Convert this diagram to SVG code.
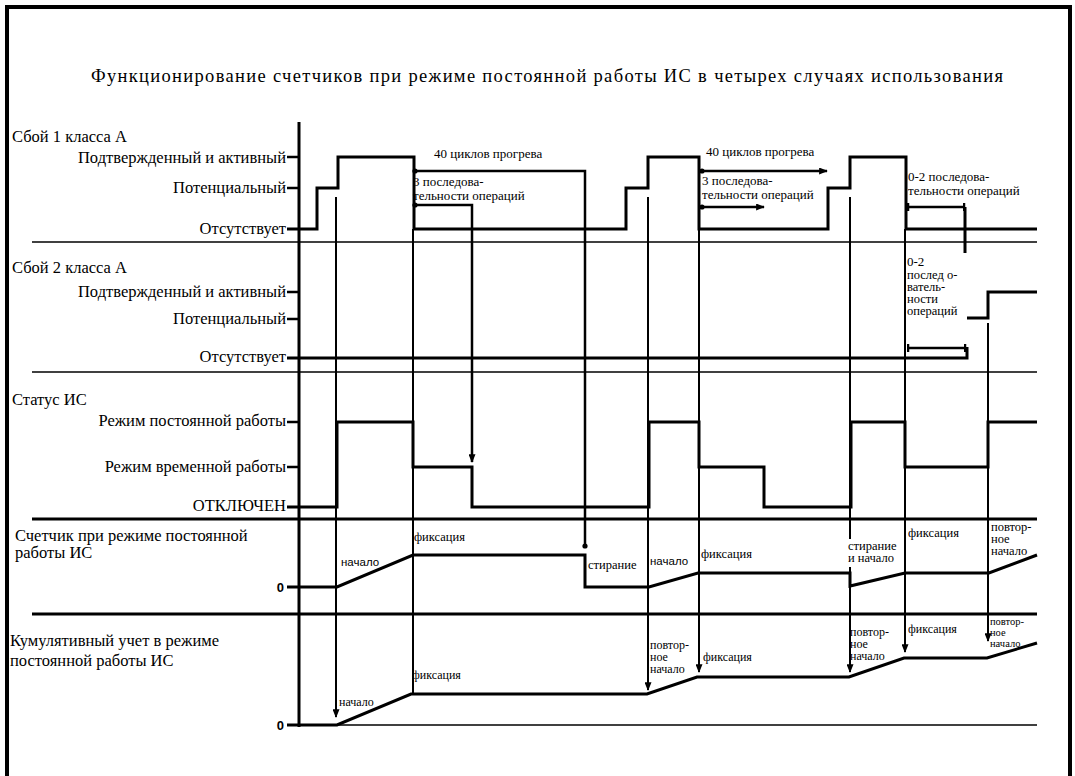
<svg xmlns="http://www.w3.org/2000/svg" width="1075" height="776" viewBox="0 0 1075 776">
  <defs>
    <style>
      text { font-family: "Liberation Serif", "Times New Roman", "DejaVu Serif", serif; fill: #000; }
      .ttl { font-size: 18.5px; }
      .lbl { font-size: 16.5px; }
      .lvl { font-size: 16.5px; text-anchor: end; }
      .ann { font-size: 13px; }
      .sm { font-size: 12.5px; }
      .cum { font-size: 12px; }
      .cumt { font-size: 10.5px; }
      .sans { font-family: "Liberation Sans", Arial, sans-serif; font-size: 11.5px; }
      .zero { font-family: "Liberation Sans", Arial, sans-serif; font-size: 13px; font-weight: bold; text-anchor: end; }
      .sep { stroke: #000; stroke-width: 1.5; fill: none; }
      .sepb { stroke: #000; stroke-width: 3; fill: none; }
      .axis { stroke: #000; stroke-width: 3; fill: none; }
      .tick { stroke: #000; stroke-width: 2.5; fill: none; }
      .wave { stroke: #000; stroke-width: 3; fill: none; }
      .thin { stroke: #000; stroke-width: 1.5; fill: none; }
      .ev { stroke: #000; stroke-width: 2; fill: none; }
      .dim { stroke: #000; stroke-width: 2.5; fill: none; }
      .mask { fill: #fff; stroke: none; }
    </style>
    <marker id="arrow" viewBox="0 0 10 8" refX="9" refY="4" markerWidth="9" markerHeight="7" markerUnits="userSpaceOnUse" orient="auto">
      <path d="M0,0 L10,4 L0,8 z" fill="#000"/>
    </marker>
    <marker id="dot" viewBox="-3 -3 6 6" refX="0" refY="0" markerWidth="6" markerHeight="6" markerUnits="userSpaceOnUse" orient="auto">
      <circle cx="0" cy="0" r="2.6" fill="#000"/>
    </marker>
    <marker id="bar" viewBox="-1.5 -5 3 10" refX="0" refY="0" markerWidth="3" markerHeight="10" markerUnits="userSpaceOnUse" orient="auto">
      <path d="M0,-4 V4" stroke="#000" stroke-width="2.5"/>
    </marker>
  </defs>

  <!-- page frame -->
  <g id="frame">
    <rect x="7" y="7" width="1063" height="800" fill="none" stroke="#000" stroke-width="4"/>
  </g>

  <g id="title">
    <text class="ttl" x="91" y="82" textLength="912" lengthAdjust="spacing">Функционирование счетчиков при режиме постоянной работы ИС в четырех случаях использования</text>
  </g>

  <!-- common time axis and row separators -->
  <g id="axes">
    <path class="axis" d="M299,122 V727"/>
    <path class="sep" d="M32,242 H1037"/>
    <path class="sep" d="M32,372 H1037"/>
    <path class="sepb" d="M32,519 H1037"/>
    <path class="sepb" d="M32,614 H1037"/>
    <path class="thin" d="M287,725 H1037"/>
  </g>

  <!-- row 1: fault 1, class A -->
  <g id="row-fault1">
    <text class="lbl" x="12" y="142">Сбой 1 класса А</text>
    <text class="lvl" x="286" y="163">Подтвержденный и активный</text>
    <text class="lvl" x="286" y="193">Потенциальный</text>
    <text class="lvl" x="286" y="234">Отсутствует</text>
    <path class="tick" d="M287,157 H299 M287,188 H299"/>
    <path class="wave" d="M287,229 H317 V188 H338 V157 H414 V229 H626 V188 H648 V157 H699 V229 H828 V188 H850 V157 H906 V229 H1037"/>
  </g>

  <!-- row 2: fault 2, class A -->
  <g id="row-fault2">
    <text class="lbl" x="12" y="273">Сбой 2 класса А</text>
    <text class="lvl" x="286" y="297">Подтвержденный и активный</text>
    <text class="lvl" x="286" y="324">Потенциальный</text>
    <text class="lvl" x="286" y="362">Отсутствует</text>
    <path class="tick" d="M287,292 H299 M287,319 H299"/>
    <path class="wave" d="M287,358 H967 V347"/>
    <path class="wave" d="M967,318 H988 V292 H1037"/>
  </g>

  <!-- row 3: IS status -->
  <g id="row-status">
    <text class="lbl" x="12" y="405">Статус ИС</text>
    <text class="lvl" x="286" y="426">Режим постоянной работы</text>
    <text class="lvl" x="286" y="472">Режим временной работы</text>
    <text class="lvl" x="286" y="511">ОТКЛЮЧЕН</text>
    <path class="tick" d="M287,422 H299 M287,467 H299"/>
    <path class="wave" d="M287,507 H337 V422 H413 V467 H472 V507 H649 V422 H699 V467 H764 V507 H851 V422 H905 V467 H988 V422 H1037"/>
  </g>

  <!-- row 4: permanent-mode counter -->
  <g id="row-counter">
    <text class="lbl" x="15" y="541">Счетчик при режиме постоянной</text>
    <text class="lbl" x="15" y="558">работы ИС</text>
    <text class="zero" x="284" y="592">0</text>
    <path class="wave" d="M287,587 H337 L413,555 H585 V587 H649 L698,573 H850 V586 L905,573 H989 L1037,555"/>
  </g>

  <!-- row 5: cumulative count -->
  <g id="row-cumulative">
    <text class="lbl" x="10" y="646">Кумулятивный учет в режиме</text>
    <text class="lbl" x="10" y="666">постоянной работы ИС</text>
    <text class="zero" x="284" y="730">0</text>
    <path class="wave" d="M287,725 H337 L411,694 H647 L697,677 H849 L904,658 H987 L1037,643"/>
  </g>

  <!-- event lines and interval arrows -->
  <g id="connectors">
    <path class="ev" d="M336,197 V717" marker-end="url(#arrow)"/>
    <path class="ev" d="M413,229 V694"/>
    <path class="ev" d="M648,197 V690" marker-end="url(#arrow)"/>
    <path class="ev" d="M699,229 V672" marker-end="url(#arrow)"/>
    <path class="ev" d="M850,197 V672" marker-end="url(#arrow)"/>
    <path class="ev" d="M905,229 V652" marker-end="url(#arrow)"/>
    <path class="ev" d="M988,323 V641" marker-end="url(#arrow)"/>

    <!-- warm-up cycles ending at counter erase -->
    <path class="dim" d="M415,171 H585 V546" marker-start="url(#dot)" marker-end="url(#dot)"/>
    <!-- operation sequences ending at switch-off -->
    <path class="dim" d="M415,205 H472 V462" marker-start="url(#dot)" marker-end="url(#arrow)"/>
    <path class="dim" d="M702,171 H827" marker-start="url(#dot)" marker-end="url(#arrow)"/>
    <path class="dim" d="M702,207 H764" marker-start="url(#dot)" marker-end="url(#arrow)"/>
    <path class="dim" d="M908,207 H964" marker-start="url(#bar)" marker-end="url(#bar)"/>
    <path class="wave" d="M965,207 V253"/>
    <path class="dim" d="M908,348 H965" marker-start="url(#bar)" marker-end="url(#bar)"/>
  </g>

  <!-- annotations -->
  <g id="labels-fault">
    <text class="ann" x="434" y="158">40 циклов прогрева</text>
    <text class="ann" x="413" y="186">3 последова-</text>
    <text class="ann" x="413" y="200">тельности операций</text>
    <text class="ann" x="706" y="156">40 циклов прогрева</text>
    <text class="ann" x="702" y="185">3 последова-</text>
    <text class="ann" x="702" y="199">тельности операций</text>
    <text class="ann" x="908" y="181">0-2 последова-</text>
    <text class="ann" x="908" y="195">тельности операций</text>
    <text class="ann" x="907" y="266">0-2</text>
    <text class="sm" x="907" y="279">послед о-</text>
    <text class="sm" x="907" y="291">ватель-</text>
    <text class="sm" x="907" y="303">ности</text>
    <text class="sm" x="907" y="315">операций</text>
  </g>

  <g id="labels-counter">
    <text class="sans" x="341" y="566">начало</text>
    <text class="sm" x="414" y="541">фиксация</text>
    <text class="sm" x="588" y="569">стирание</text>
    <text class="sans" x="650" y="565">начало</text>
    <text class="sm" x="701" y="558">фиксация</text>
    <rect class="mask" x="846" y="539" width="56" height="28"/>
    <text class="sm" x="848" y="550">стирание</text>
    <text class="sm" x="848" y="562">и начало</text>
    <text class="sm" x="908" y="537">фиксация</text>
    <text class="sm" x="991" y="531">повтор-</text>
    <text class="sm" x="991" y="543">ное</text>
    <text class="sm" x="991" y="555">начало</text>
  </g>

  <g id="labels-cumulative">
    <text class="cum" x="339" y="706">начало</text>
    <text class="cum" x="412" y="679">фиксация</text>
    <text class="cum" x="650" y="649">повтор-</text>
    <text class="cum" x="650" y="661">ное</text>
    <text class="cum" x="650" y="673">начало</text>
    <text class="cum" x="703" y="661">фиксация</text>
    <text class="cum" x="850" y="636">повтор-</text>
    <text class="cum" x="850" y="648">ное</text>
    <text class="cum" x="850" y="660">начало</text>
    <text class="cum" x="908" y="633">фиксация</text>
    <text class="cumt" x="990" y="625">повтор-</text>
    <text class="cumt" x="990" y="636">ное</text>
    <text class="cumt" x="990" y="647">начало</text>
  </g>
</svg>
